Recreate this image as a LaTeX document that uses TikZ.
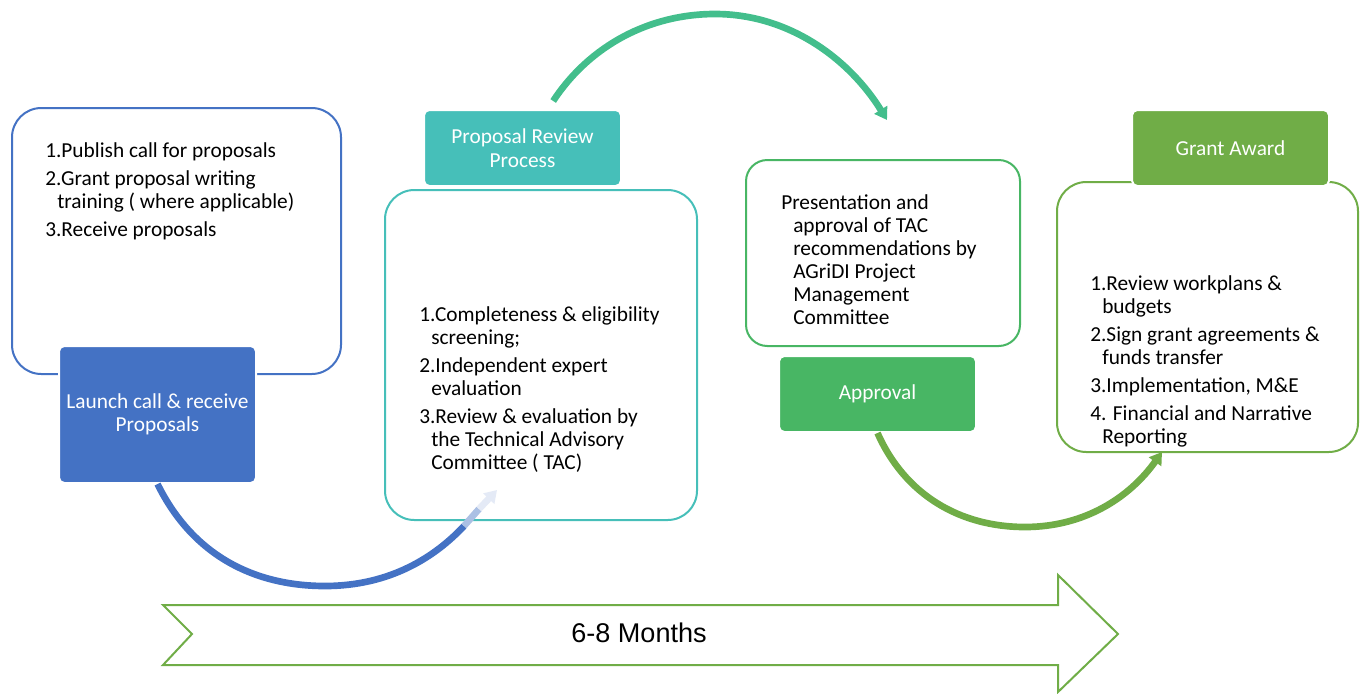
\documentclass[tikz,border=0pt]{standalone}
\usepackage{fontspec}
\setmainfont{Carlito}
\newfontfamily\arialfont{Liberation Sans}
\usetikzlibrary{arrows.meta}

\definecolor{launchblue}{HTML}{4472C4}
\definecolor{reviewteal}{HTML}{46BFB9}
\definecolor{approvalgreen}{HTML}{48B664}
\definecolor{topgreen}{HTML}{43BE8C}
\definecolor{awardgreen}{HTML}{70AD47}
\definecolor{fadeblue}{HTML}{E4EAF6}

\newcommand{\stepitem}{\par\hangindent=9pt\hangafter=1\relax}

\begin{document}
\begin{tikzpicture}[x=0.75pt,y=-0.75pt]
    \useasboundingbox (0,0) rectangle (1362,693);
    % time line
    \draw[awardgreen, line width=1.5pt, fill=white] (163,605) -- (1058,605) -- (1058,575) -- (1118,634)
        -- (1058,692) -- (1058,665) -- (163,665) -- (192,634) -- cycle;
    \node[font=\arialfont\fontsize{20.3}{24}\selectfont] (months) at (639,633) {6-8 Months};
    \begin{scope}
        \tikzstyle{every node}=[draw, fill=white, rounded corners=22pt, line width=1.5pt, inner sep=0pt]
        \node[draw=launchblue, minimum width=246.75pt, minimum height=199.5pt] (callbox) at (176.5,241) {};
        \node[draw=reviewteal, minimum width=234pt, minimum height=247.5pt] (reviewbox) at (541,355) {};
        \node[draw=approvalgreen, rounded corners=16pt, minimum width=205.5pt, minimum height=139.5pt] (approvalbox) at (883,253) {};
        \node[draw=awardgreen, minimum width=225.75pt, minimum height=202.5pt] (awardbox) at (1207.5,317) {};
    \end{scope}
    \begin{scope}
        \tikzstyle{every node}=[draw=white, line width=1.5pt, rounded corners=4pt, text=white, align=center,
            minimum width=147.75pt, minimum height=57pt, inner sep=0pt, font=\fontsize{16}{17.5}\selectfont]
        \node[fill=launchblue, minimum height=102.75pt] (launch) at (157.5,414.5) {Launch call \& receive\\Proposals};
        \node[fill=reviewteal] (review) at (522.5,148) {Proposal Review\\Process};
        \node[fill=approvalgreen] (approval) at (877.5,394) {Approval};
        \node[fill=awardgreen] (award) at (1230.5,148) {Grant Award};
    \end{scope}
    \begin{scope}
        \tikzstyle{every node}=[anchor=base west, align=flush left, text width=260pt, inner sep=0pt,
            font=\fontsize{16}{17.25}\selectfont,
            execute at begin node={\setlength{\parskip}{3.75pt}\hangindent=9pt\hangafter=1\relax}]
        \node (calltext) at (45,157) {1.Publish call for proposals
            \stepitem 2.Grant proposal writing\newline training ( where applicable)
            \stepitem 3.Receive proposals};
        \node (reviewtext) at (419,321) {1.Completeness \& eligibility\newline screening;
            \stepitem 2.Independent expert\newline evaluation
            \stepitem 3.Review \& evaluation by\newline the Technical Advisory\newline Committee ( TAC)};
        \node (approvaltext) at (781,209) {\hangindent=6pt Presentation and\newline approval of TAC\newline
            recommendations by\newline AGriDI Project\newline Management\newline Committee};
        \node (awardtext) at (1090,290) {1.Review workplans \&\newline budgets
            \stepitem 2.Sign grant agreements \&\newline funds transfer
            \stepitem 3.Implementation, M\&E
            \stepitem 4. Financial and Narrative\newline Reporting};
    \end{scope}
    % curved arrows
    \coordinate (fadeA) at (464,526);
    \coordinate (fadeB) at (479,509);
    \coordinate (tipB) at (497,490);
    \coordinate (tipC) at (887,120);
    \coordinate (tipD) at (1162,452);
    \draw[launchblue, line width=5pt] (launch.south) .. controls (195,560) and (260,586) .. (325,586)
        .. controls (390,586) and (435,557) .. (fadeA);
    \draw[launchblue!45, line width=5pt] (fadeA) -- (fadeB);
    \draw[fadeblue, line width=5pt, -{Triangle[length=9pt,width=11pt]}] (fadeB) -- (tipB);
    \draw[topgreen, line width=5pt, -{Triangle[length=9pt,width=11pt]}] ([xshift=23pt,yshift=6pt]review.north)
        .. controls (590,45) and (650,14) .. (715,14) .. controls (790,14) and (850,60) .. (tipC);
    \draw[awardgreen, line width=5pt, -{Triangle[length=9pt,width=11pt]}] (approval.south)
        .. controls (905,495) and (960,527) .. (1025,527) .. controls (1085,527) and (1130,497) .. (tipD);
\end{tikzpicture}
\end{document}
